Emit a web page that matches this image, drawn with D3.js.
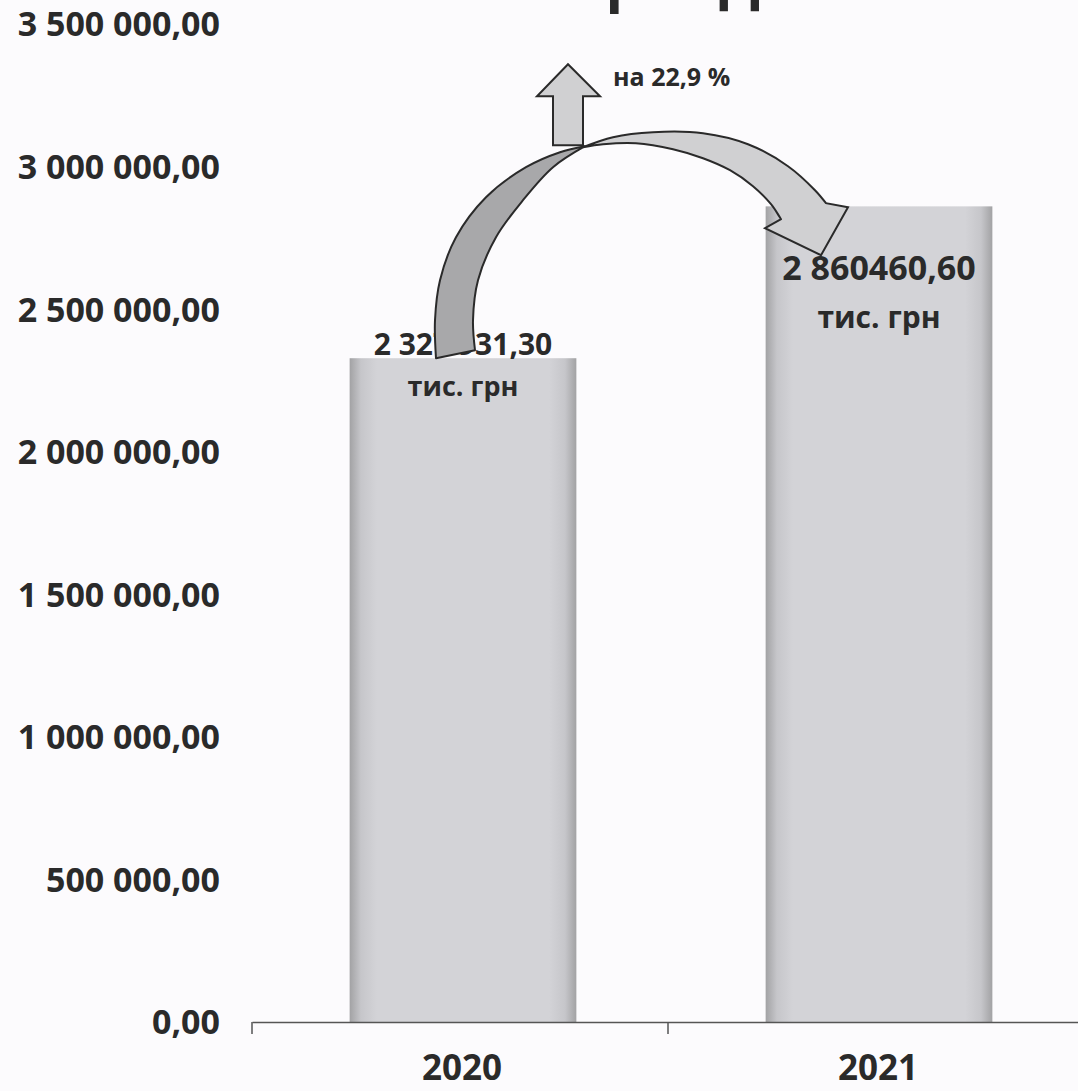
<!DOCTYPE html>
<html>
<head>
<meta charset="utf-8">
<script src="https://cdn.jsdelivr.net/npm/d3@7"></script>
<style>
  html, body { margin: 0; padding: 0; background: #fcfbfd; }
  svg { display: block; }
  text { font-family: "Open Sans", "Noto Sans", sans-serif; font-weight: 700; fill: #2a2a2a; }
</style>
</head>
<body>
<svg id="chart" width="1078" height="1091"></svg>
<script>
// ---- data ----
const titleText = "Загальний фонд";
const years = ["2020", "2021"];
const values = [2327931.30, 2860460.60];
const valueLabels = ["2 327 931,30", "2 860460,60"];
const unitLabel = "тис. грн";
const growthLabel = "на 22,9 %";
const yTicks = [0, 500000, 1000000, 1500000, 2000000, 2500000, 3000000, 3500000];

// ---- setup ----
const svg = d3.select("#chart");
const locale = d3.formatLocale({ decimal: ",", thousands: " ", grouping: [3], currency: ["", ""] });
const fmt = locale.format(",.2f");

const y = d3.scaleLinear().domain([0, 3500000]).range([1022, 24]);
const x = d3.scaleBand().domain(years).range([252, 1084]);
const barW = x.bandwidth() * 0.545;
const barX = d => x(d) + (x.bandwidth() - barW) / 2 + 3;

// gradient for bars
const defs = svg.append("defs");
const g = defs.append("linearGradient").attr("id", "barGrad").attr("x1", "0").attr("x2", "1").attr("y1", "0").attr("y2", "0");
[[0, "#a2a2a4"], [0.05, "#c6c6ca"], [0.12, "#d3d3d7"], [0.88, "#d3d3d7"], [0.95, "#c6c6ca"], [1, "#a2a2a4"]]
  .forEach(([o, c]) => g.append("stop").attr("offset", o).attr("stop-color", c));

// title (cut off at top, as in the reference)
svg.append("text").attr("x", 760).attr("y", -1).attr("text-anchor", "end")
  .style("font-size", "62px").text(titleText);

// y axis labels (no axis line)
const yAxis = d3.axisLeft(y).tickValues(yTicks).tickFormat(fmt).tickSize(0).tickPadding(0);
const yg = svg.append("g").attr("transform", "translate(220,0)").call(yAxis);
yg.select(".domain").remove();
yg.selectAll("text").style("font-size", "34px").attr("fill", "#2a2a2a")
  .style("font-family", "'Open Sans', sans-serif").attr("dy", "0.35em");

// bars
svg.append("g").selectAll("rect").data(years).join("rect")
  .attr("x", d => barX(d))
  .attr("width", barW)
  .attr("y", (d, i) => y(values[i]))
  .attr("height", (d, i) => y(0) - y(values[i]))
  .attr("fill", "url(#barGrad)");

// x axis
const xAxis = d3.axisBottom(x).tickSize(12).tickSizeOuter(0).tickFormat("");
const xg = svg.append("g").attr("transform", `translate(0,${y(0)})`).call(xAxis);
xg.select(".domain").attr("stroke", "#555").attr("stroke-width", 1.5);
xg.selectAll(".tick line").attr("stroke", "#555").attr("stroke-width", 1.5)
  .attr("transform", `translate(${-x.bandwidth() / 2},0)`);
// year labels
svg.append("g").selectAll("text").data(years).join("text")
  .attr("x", d => x(d) + x.bandwidth() / 2 + 2)
  .attr("y", 1080)
  .attr("text-anchor", "middle")
  .style("font-size", "35px")
  .text(d => d);

// value labels
const cx = d => barX(d) + barW / 2;
// 2020: value above bar, unit inside
svg.append("text").attr("x", cx(years[0])).attr("y", y(values[0]) - 3)
  .attr("text-anchor", "middle").style("font-size", "30px").text(valueLabels[0]);
svg.append("text").attr("x", cx(years[0])).attr("y", y(values[0]) + 38)
  .attr("text-anchor", "middle").style("font-size", "27px").text(unitLabel);
// 2021: both inside bar
svg.append("text").attr("x", cx(years[1])).attr("y", y(values[1]) + 74)
  .attr("text-anchor", "middle").style("font-size", "34px").text(valueLabels[1]);
svg.append("text").attr("x", cx(years[1])).attr("y", y(values[1]) + 122)
  .attr("text-anchor", "middle").style("font-size", "30px").text(unitLabel);

// ---- curved arrow annotation (anchored on the 2020 value) ----
const ax = cx(years[0]), ay = y(values[0]);
const P = pts => pts.map(([px, py]) => [ax + px - 460, ay + py - 358]);
const curve = d3.line().curve(d3.curveCatmullRom.alpha(0.5));

// underside (darker) left part
const outerL = P([[433,358],[432,320],[437,280],[453,237],[483,197],[523,167],[557,152],[582,146]]);
const innerL = P([[582,146],[550,167],[520,200],[493,237],[475,280],[470,320],[472,350]]);
svg.append("path")
  .attr("d", curve(outerL) + curve(innerL).replace(/^M/, "L") + "Z")
  .attr("fill", "#a8a8aa").attr("stroke", "#2a2a2a").attr("stroke-width", 2).attr("stroke-linejoin", "round");

// top (lighter) right part with arrow head
const upper = P([[580,147],[610,137],[650,132],[700,133],[745,144],[785,166],[812,190],[823,203]]);
const head = P([[845,207],[818,255],[762,228],[778,219]]);
const lower = P([[778,219],[768,204],[750,186],[727,170],[700,158],[670,149],[633,143],[600,144],[580,147]]);
svg.append("path")
  .attr("d", curve(upper) + "L" + head.map(p => p.join(",")).join("L") + curve(lower).replace(/^M/, "L") + "Z")
  .attr("fill", "#d0d0d2").attr("stroke", "#2a2a2a").attr("stroke-width", 2).attr("stroke-linejoin", "miter");

// small up arrow
const up = P([[550,145],[550,96],[534,96],[565,64],[597,96],[580,96],[580,145]]);
svg.append("path")
  .attr("d", "M" + up.map(p => p.join(",")).join("L") + "Z")
  .attr("fill", "#d0d0d2").attr("stroke", "#2a2a2a").attr("stroke-width", 2);

svg.append("text").attr("x", ax + 150).attr("y", ay - 272)
  .style("font-size", "25px").text(growthLabel);
</script>
</body>
</html>
